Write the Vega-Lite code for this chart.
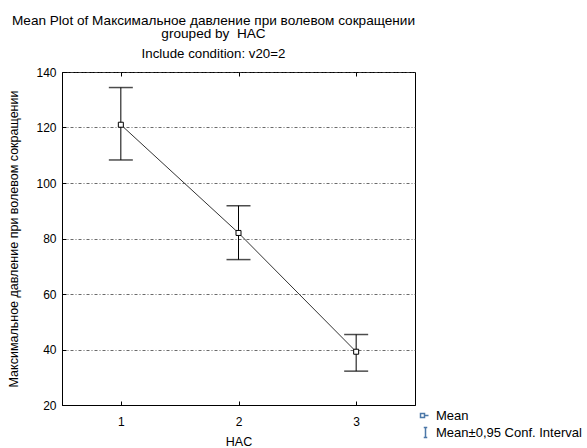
{
  "$schema": "https://vega.github.io/schema/vega-lite/v6.json",
  "width": 353,
  "height": 333,
  "autosize": "none",
  "padding": {"left": 62, "top": 72, "right": 172, "bottom": 43},
  "background": "white",
  "config": {
    "font": "Liberation Sans",
    "view": {"stroke": "black", "strokeWidth": 1},
    "axis": {
      "labelFont": "Liberation Sans",
      "titleFont": "Liberation Sans",
      "labelFontSize": 12,
      "titleFontSize": 12.5,
      "titleFontWeight": "normal",
      "labelColor": "black",
      "titleColor": "black",
      "domainColor": "black",
      "tickColor": "black",
      "tickSize": -4
    }
  },
  "title": {
    "text": ["Mean Plot of Максимальное давление при волевом сокращении", "grouped by \u00a0HAC"],
    "subtitle": "Include condition: v20=2",
    "fontSize": 13.6,
    "fontWeight": "normal",
    "subtitleFontSize": 13.3,
    "subtitleColor": "black",
    "color": "black",
    "anchor": "middle",
    "dx": -25,
    "offset": 6,
    "subtitlePadding": 6,
    "lineHeight": 13
  },
  "data": {
    "values": [
      {"HAC": "1", "mean": 121.0, "lo": 108.3, "hi": 134.4},
      {"HAC": "2", "mean": 82.0, "lo": 72.4, "hi": 91.8},
      {"HAC": "3", "mean": 39.2, "lo": 32.2, "hi": 45.4}
    ]
  },
  "resolve": {"axis": {"x": "independent"}},
  "layer": [
    {
      "mark": {"type": "rule", "color": "black", "strokeWidth": 1},
      "encoding": {
        "x": {
          "field": "HAC",
          "type": "ordinal",
          "scale": {"type": "point", "padding": 0.5},
          "axis": {"labelAngle": 0, "title": "HAC", "grid": false, "labelPadding": 15, "titlePadding": 8}
        },
        "y": {
          "field": "lo",
          "type": "quantitative",
          "scale": {"domain": [20, 140], "nice": false, "zero": false},
          "axis": {
            "values": [20, 40, 60, 80, 100, 120, 140],
            "title": "Максимальное давление при волевом сокращении",
            "grid": true,
            "gridColor": "#444444",
            "gridDash": [3, 2, 1, 2],
            "gridWidth": 0.8,
            "labelPadding": 10,
            "titlePadding": 15
          }
        },
        "y2": {"field": "hi"}
      }
    },
    {
      "mark": {"type": "tick", "color": "black", "size": 24, "thickness": 1.5},
      "encoding": {
        "x": {
          "field": "HAC",
          "type": "ordinal",
          "axis": {"orient": "top", "labels": false, "title": null, "domain": false, "grid": false, "tickSize": -4, "ticks": true}
        },
        "y": {"field": "lo", "type": "quantitative"}
      }
    },
    {
      "mark": {"type": "tick", "color": "black", "size": 24, "thickness": 1.5},
      "encoding": {
        "x": {"field": "HAC", "type": "ordinal", "axis": null},
        "y": {"field": "hi", "type": "quantitative"}
      }
    },
    {
      "mark": {"type": "line", "color": "#333333", "strokeWidth": 1},
      "encoding": {
        "x": {"field": "HAC", "type": "ordinal", "axis": null},
        "y": {"field": "mean", "type": "quantitative"}
      }
    },
    {
      "mark": {"type": "point", "shape": "square", "filled": true, "fill": "white", "stroke": "black", "strokeWidth": 1, "size": 25, "opacity": 1},
      "encoding": {
        "x": {"field": "HAC", "type": "ordinal", "axis": null},
        "y": {"field": "mean", "type": "quantitative"}
      }
    },
    {
      "mark": {"type": "point", "opacity": 0},
      "encoding": {
        "x": {"field": "HAC", "type": "ordinal", "axis": null},
        "y": {"field": "mean", "type": "quantitative"},
        "shape": {
          "datum": "Mean",
          "scale": {
            "domain": ["Mean", "Mean±0,95 Conf. Interval"],
            "range": ["M-1,-0.4H-0.2V0.4H-1ZM-0.2,0H0.6", "M-0.35,-1H0.35M0,-1V1M-0.35,1H0.35"]
          },
          "legend": {
            "orient": "none",
            "legendX": 357,
            "legendY": 337,
            "title": null,
            "labelFontSize": 13,
            "labelColor": "black",
            "labelFont": "Liberation Sans",
            "symbolSize": 100,
            "rowPadding": 1,
            "labelOffset": 4,
            "encode": {
              "symbols": {
                "update": {
                  "fill": {"value": "white"},
                  "stroke": {"value": "#777777"},
                  "strokeWidth": {"value": 1},
                  "opacity": {"value": 1}
                }
              }
            }
          }
        }
      }
    }
  ]
}
